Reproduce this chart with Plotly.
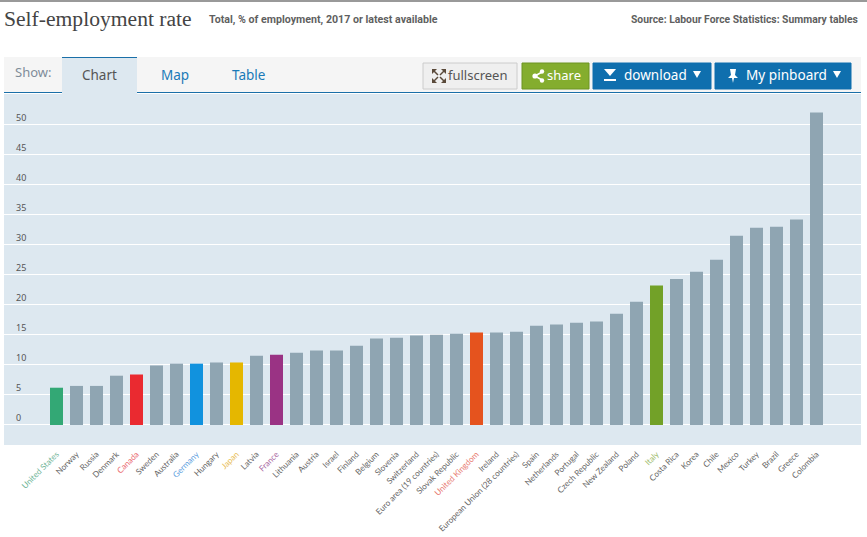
import plotly.graph_objects as go

countries = ["United States", "Norway", "Russia", "Denmark", "Canada", "Sweden", "Australia", "Germany",
             "Hungary", "Japan", "Latvia", "France", "Lithuania", "Austria", "Israel", "Finland", "Belgium",
             "Slovenia", "Switzerland", "Euro area (19 countries)", "Slovak Republic", "United Kingdom",
             "Ireland", "European Union (28 countries)", "Spain", "Netherlands", "Portugal", "Czech Republic",
             "New Zealand", "Poland", "Italy", "Costa Rica", "Korea", "Chile", "Mexico", "Turkey", "Brazil",
             "Greece", "Colombia"]
rates = [6.2, 6.5, 6.5, 8.2, 8.4, 9.9, 10.2, 10.2, 10.4, 10.4, 11.5, 11.7, 12.0, 12.4, 12.4, 13.2, 14.4,
         14.5, 14.9, 15.0, 15.2, 15.4, 15.4, 15.5, 16.5, 16.7, 17.0, 17.2, 18.5, 20.5, 23.2, 24.3, 25.5,
         27.5, 31.5, 32.8, 33.0, 34.2, 52.0]
highlights = {"United States": "#33a875", "Canada": "#ea2a30", "Germany": "#1192de", "Japan": "#e5b700",
              "France": "#9a3384", "United Kingdom": "#e5531e", "Italy": "#72a128"}
label_colors = {"United States": "#6fb596", "Canada": "#ea6a70", "Germany": "#5f9fe0", "Japan": "#e8bd55",
                "France": "#a868a0", "United Kingdom": "#e87a70", "Italy": "#9dbb6a"}
y_ticks = [0, 5, 10, 15, 20, 25, 30, 35, 40, 45, 50]

W, H = 867, 537
L, R, T, B = 4, 861, 94, 445


def px(x):
    return (x - L) / (R - L)


def py(y):
    return (B - y) / (B - T)


def box(x0, y0, x1, y1, color, line=None):
    return dict(type="rect", xref="paper", yref="paper", x0=px(x0), x1=px(x1), y0=py(y1), y1=py(y0),
                fillcolor=color, line=dict(color=line or color, width=1 if line else 0), layer="above")


def poly(points, color):
    path = "M" + "L".join(f"{px(a):.5f},{py(b):.5f}" for a, b in points) + "Z"
    return dict(type="path", xref="paper", yref="paper", path=path, fillcolor=color, line=dict(width=0),
                layer="above")


def stroke(x0, y0, x1, y1, color, width=1.5):
    return dict(type="line", xref="paper", yref="paper", x0=px(x0), x1=px(x1), y0=py(y0), y1=py(y1),
                line=dict(color=color, width=width), layer="above")


def dot(x, y, r, color):
    return dict(type="circle", xref="paper", yref="paper", x0=px(x - r), x1=px(x + r), y0=py(y + r), y1=py(y - r),
                fillcolor=color, line=dict(width=0), layer="above")


def text(x, y, s, size, color, font="Noto Sans", anchor="left"):
    return dict(xref="paper", yref="paper", x=px(x), y=py(y), text=s, showarrow=False, xanchor=anchor,
                yanchor="middle", font=dict(size=size, color=color, family=font), borderpad=0, borderwidth=0)


bar_colors = [highlights.get(c, "#8fa5b2") for c in countries]
tick_text = [f'<span style="color:{label_colors[c]}">{c}</span>' if c in label_colors else c for c in countries]

fig = go.Figure(go.Bar(x=countries, y=rates, marker=dict(color=bar_colors, line=dict(width=0)), width=0.65))

icon = "#5a4a3a"
shapes = [
    box(0, 0, 867, 2, "#999999"),
    box(4, 57, 861, 93, "#f5f5f5"),
    box(4, 92, 861, 93, "#1a6fa8"),
    box(62, 57, 137, 94, "#dde8f0"),
    box(62, 57, 137, 58, "#1a6fa8"),
    box(423, 63, 517, 89, "#efefef", "#cccccc"),
    box(522, 63, 589, 89, "#84ad2e", "#6d9423"),
    box(593, 63, 711, 89, "#0f6fae", "#0f6fae"),
    box(715, 63, 851, 89, "#0f6fae", "#0f6fae"),
    # fullscreen arrows
    poly([(432, 69), (437, 69), (432, 74)], icon),
    poly([(446, 69), (441, 69), (446, 74)], icon),
    poly([(432, 83), (437, 83), (432, 78)], icon),
    poly([(446, 83), (441, 83), (446, 78)], icon),
    stroke(433, 70, 438, 75, icon),
    stroke(445, 70, 440, 75, icon),
    stroke(433, 82, 438, 77, icon),
    stroke(445, 82, 440, 77, icon),
    # share dots
    stroke(535, 76, 542, 72, "#ffffff"),
    stroke(535, 76, 542, 80, "#ffffff"),
    dot(535, 76, 2.6, "#ffffff"),
    dot(542, 71.5, 2.2, "#ffffff"),
    dot(542, 80.5, 2.2, "#ffffff"),
    # download arrow
    poly([(604, 69), (616, 69), (610, 76)], "#ffffff"),
    box(604, 79, 616, 81, "#ffffff"),
    poly([(693, 71), (701, 71), (697, 78)], "#ffffff"),
    # pin
    poly([(730, 69), (736, 69), (735, 75), (738, 78), (734, 78), (733, 83), (732, 78), (728, 78), (731, 75)],
         "#ffffff"),
    poly([(833, 71), (841, 71), (837, 78)], "#ffffff"),
]

annotations = [
    text(4, 19, "Self-employment rate", 21.6, "#444444", "Liberation Serif"),
    text(209, 19, "<b>Total, % of employment, 2017 or latest available</b>", 10.65, "#5f5f5f", "Roboto"),
    text(858, 19, "<b>Source: Labour Force Statistics: Summary tables</b>", 10.35, "#5f5f5f", "Roboto", "right"),
    text(15, 72, "Show:", 13, "#7f8c99"),
    text(99.5, 75, "Chart", 13.5, "#555555", anchor="center"),
    text(174.5, 75, "Map", 13.5, "#1a7ab8", anchor="center"),
    text(248.5, 75, "Table", 13.5, "#1a7ab8", anchor="center"),
    text(448, 75, "fullscreen", 13, "#555555"),
    text(547, 75, "share", 13, "#ffffff"),
    text(624, 75, "download", 13.5, "#ffffff"),
    text(746, 75, "My pinboard", 13.6, "#ffffff"),
]

fig.update_layout(
    width=W, height=H, margin=dict(l=L, r=W - R, t=T, b=H - B, pad=0),
    paper_bgcolor="#ffffff", plot_bgcolor="#dde8f0", showlegend=False, bargap=0.35,
    shapes=shapes, annotations=annotations,
    font=dict(family="Lato", size=8.2, color="#666666"),
    xaxis=dict(type="category", range=[-2.625, 40.225], tickmode="array", tickvals=countries, ticktext=tick_text,
               tickangle=-45, showgrid=False, zeroline=False, showline=False, ticks="", ticklabelstandoff=2,
               tickfont=dict(size=8.2, color="#666666", family="Lato"), automargin=False),
    yaxis=dict(range=[-3.33, 55.07], tickmode="array", tickvals=y_ticks, showgrid=True, gridcolor="#ffffff",
               gridwidth=1, zeroline=True, zerolinecolor="#ffffff", zerolinewidth=1, showline=False, ticks="",
               ticklabelposition="inside", ticklabelshift=-7, ticklabelstandoff=9,
               tickfont=dict(size=9, color="#555555", family="Noto Sans"), automargin=False),
)

fig.write_html("out.html", config=dict(displayModeBar=False),
               post_script="document.body.style.margin='0';")
